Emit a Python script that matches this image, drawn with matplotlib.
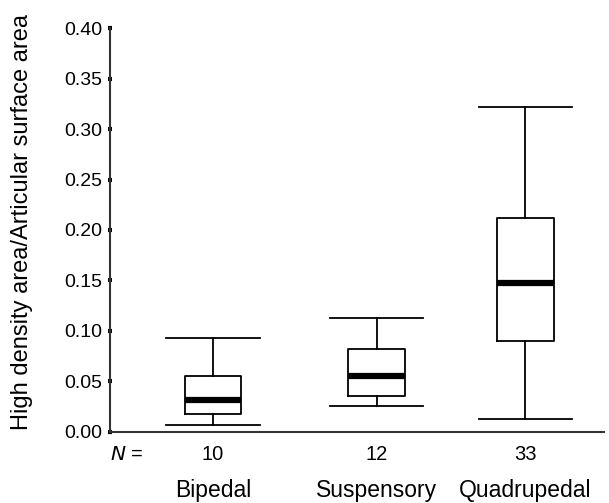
import matplotlib
matplotlib.use('Agg')
import matplotlib.pyplot as plt
from matplotlib import transforms

plt.rcParams['font.family'] = ['Liberation Sans', 'DejaVu Sans']

# data
groups = ['Bipedal', 'Suspensory', 'Quadrupedal']
n_obs = [10, 12, 33]
whislo = [0.006, 0.025, 0.012]
q1 = [0.017, 0.035, 0.090]
med = [0.031, 0.055, 0.147]
q3 = [0.055, 0.082, 0.212]
whishi = [0.093, 0.113, 0.322]
positions = [0.0, 1.0, 1.91]
yticks = [0.00, 0.05, 0.10, 0.15, 0.20, 0.25, 0.30, 0.35, 0.40]

stats = []
for g, lo, a, m, b, hi in zip(groups, whislo, q1, med, q3, whishi):
    stats.append(dict(label=g, whislo=lo, q1=a, med=m, q3=b, whishi=hi, fliers=[]))

fig = plt.figure(figsize=(6.09, 5.03), dpi=100)
ax = fig.add_axes([0.1806, 0.1421, 0.8112, 0.8016])

line = dict(color='black', linewidth=1.3)
ax.bxp(stats, positions=positions, widths=0.345, showfliers=False,
       boxprops=line, whiskerprops=line, capprops=line,
       medianprops=dict(color='black', linewidth=4.5), capwidths=0.57)

ax.set_xlim(-0.63, 2.39)
ax.set_ylim(0, 0.40)
ax.set_yticks(yticks)
ax.set_yticklabels(['%.2f' % t for t in yticks], fontsize=14)
ax.set_xticks([])
for s in ['top', 'right']:
    ax.spines[s].set_visible(False)
for s in ['left', 'bottom']:
    ax.spines[s].set_color('#333333')
    ax.spines[s].set_linewidth(1.5)
ax.tick_params(axis='y', direction='inout', length=3, width=3, color='black', pad=4)

ax.set_ylabel('High density area/Articular surface area', fontsize=17)
ax.yaxis.set_label_coords(-0.155, 0.52)

trans = transforms.blended_transform_factory(ax.transData, ax.transAxes)
ax.text(0, -0.057, '$N$ =', transform=ax.transAxes, fontsize=14.5, ha='left', va='center')
for p, n, g in zip(positions, n_obs, groups):
    ax.text(p, -0.057, str(n), transform=trans, fontsize=14.5, ha='center', va='center')
    ax.text(p, -0.146, g, transform=trans, fontsize=16.5, ha='center', va='center')

plt.savefig('out.png', dpi=100)
